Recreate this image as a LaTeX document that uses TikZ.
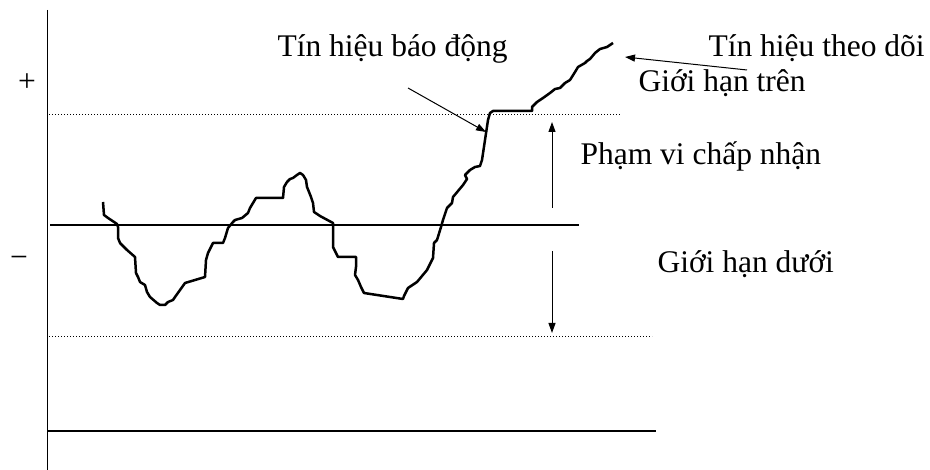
\documentclass[tikz,border=0pt]{standalone}
\usepackage{fontspec}
\setmainfont{Liberation Serif}
\usetikzlibrary{arrows.meta}
\tikzset{limit/.style={line width=0.4pt, dash pattern=on 0.4pt off 0.8pt}}
\tikzset{level/.style={line width=0.8pt}}
\tikzset{signal/.style={line width=1pt, line join=round}}
\tikzset{pointer/.style={line width=0.4pt, -{Triangle[length=4pt,width=2.8pt]}}}

\begin{document}
\begin{tikzpicture}[x=0.4pt, y=-0.4pt]
	% Default action for each node
	\tikzstyle{every node}=[inner sep=0pt, font=\fontsize{12.6}{15}\selectfont];
	\useasboundingbox (0,0) rectangle (930,470);

	\coordinate (axistop) at (47,10);		\coordinate (axisbottom) at (47,470);
	\coordinate (upperleft) at (49,115);	\coordinate (upperright) at (620,115);
	\coordinate (midleft) at (50,225);		\coordinate (midright) at (579,225);
	\coordinate (lowerleft) at (49,337);	\coordinate (lowerright) at (652,337);
	\coordinate (baseleft) at (48,431);		\coordinate (baseright) at (656,431);

	\node (plus) at (27,83) {+};
	\node (minus) at (19,262) {−};
	\node[anchor=base west] (alarm) at (277,57) {Tín hiệu báo động};
	\node[anchor=base west] (monitor) at (708,57) {Tín hiệu theo dõi};
	\node[anchor=base west] (upper) at (638,92) {Giới hạn trên};
	\node[anchor=base west] (range) at (580,165) {Phạm vi chấp nhận};
	\node[anchor=base west] (lower) at (657,273) {Giới hạn dưới};

	\coordinate (alarmtail) at (408,88);	\coordinate (alarmtip) at (486,132);
	\coordinate (monitortail) at (747,70);	\coordinate (monitortip) at (625,57);
	\coordinate (rangeup) at (552,208);		\coordinate (rangeuptip) at (552,122);
	\coordinate (rangedown) at (552,251);	\coordinate (rangedowntip) at (552,333);

	% Axis and levels
	\draw[line width=0.4pt] (axistop) -- (axisbottom);
	\draw[limit] (upperleft) -- (upperright);
	\draw[level] (midleft) -- (midright);
	\draw[limit] (lowerleft) -- (lowerright);
	\draw[level] (baseleft) -- (baseright);

	% Signal
	\draw[signal] (103,202) -- (104,215) -- (108,218) -- (117,224) -- (118,227) -- (118,238)
		-- (120,243) -- (127,250) -- (135,257) -- (136,273) -- (138,277) -- (140,282)
		-- (145,285) -- (147,292) -- (150,297) -- (157,303) -- (160,305) -- (165,305)
		-- (168,302) -- (173,300) -- (175,297) -- (180,290) -- (185,283) -- (205,277)
		-- (206,260) -- (208,253) -- (213,243) -- (223,243) -- (225,238) -- (228,228)
		-- (233,222) -- (235,220) -- (242,218) -- (248,213) -- (250,208) -- (253,203)
		-- (256,198) -- (283,198) -- (284,187) -- (287,182) -- (290,179) -- (293,178)
		-- (297,175) -- (300,173) -- (303,175) -- (306,180) -- (307,187) -- (309,192)
		-- (311,197) -- (313,203) -- (314,212) -- (320,216) -- (333,223) -- (333,247)
		-- (338,257) -- (356,257) -- (356,267) -- (355,275) -- (358,280) -- (361,287)
		-- (364,293) -- (403,299) -- (404,296) -- (408,288) -- (417,282) -- (427,270)
		-- (433,258) -- (434,243) -- (437,240) -- (441,227) -- (443,220) -- (447,208)
		-- (452,203) -- (453,197) -- (463,185) -- (467,179) -- (465,175) -- (470,170)
		-- (475,167) -- (480,166) -- (482,160) -- (488,120) -- (490,113) -- (493,111)
		-- (532,111) -- (532,107) -- (537,102) -- (543,98) -- (550,93) -- (555,89)
		-- (560,88) -- (565,83) -- (570,80) -- (575,72) -- (578,67) -- (585,63)
		-- (587,61) -- (590,59) -- (595,53) -- (600,49) -- (607,47) -- (613,43);

	% Pointers
	\draw[pointer] (alarmtail) -- (alarmtip);
	\draw[pointer] (monitortail) -- (monitortip);
	\draw[pointer] (rangeup) -- (rangeuptip);
	\draw[pointer] (rangedown) -- (rangedowntip);
\end{tikzpicture}
\end{document}
